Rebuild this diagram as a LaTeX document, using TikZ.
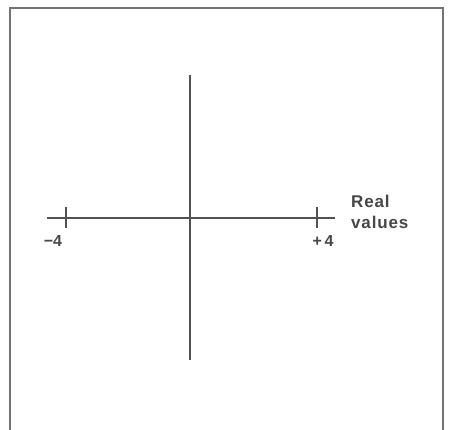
\documentclass[tikz,border=0pt]{standalone}
\usepackage{fontspec}
\setmainfont{Liberation Sans}
\newfontfamily\lblfont[LetterSpace=5]{Liberation Sans}
\begin{document}
\begin{tikzpicture}[x=1pt,y=-1pt,
  axis/.style={draw=black!68,line width=2pt},
  framebox/.style={draw=black!55,line width=1.3pt},
  ticklbl/.style={font=\fontsize{16}{16}\selectfont\bfseries,text=black!72,inner sep=0pt},
  axlbl/.style={font=\lblfont\fontsize{17}{20.5}\selectfont\bfseries,text=black!72,inner sep=0pt,align=left,anchor=west}]
\useasboundingbox (0,0) rectangle (449,429);
\begin{scope}
\clip (0,0) rectangle (449,429);
\draw[framebox] (10,8) rectangle (443,433);
\end{scope}
% axes
\coordinate (hl) at (47,218);
\coordinate (hr) at (335,218);
\coordinate (vt) at (190,75);
\coordinate (vb) at (190,360);
\draw[axis] (hl) -- (hr);
\draw[axis] (vt) -- (vb);
% ticks
\coordinate (tla) at (66,207);
\coordinate (tlb) at (66,228);
\coordinate (tra) at (317,207);
\coordinate (trb) at (317,228);
\draw[axis] (tla) -- (tlb);
\draw[axis] (tra) -- (trb);
\node[ticklbl] (m4) at (53,241) {\textminus 4};
\node[ticklbl] (p4) at (323,241) {+\,4};
\node[axlbl] (rv) at (351,212) {Real\\values};
\end{tikzpicture}
\end{document}
